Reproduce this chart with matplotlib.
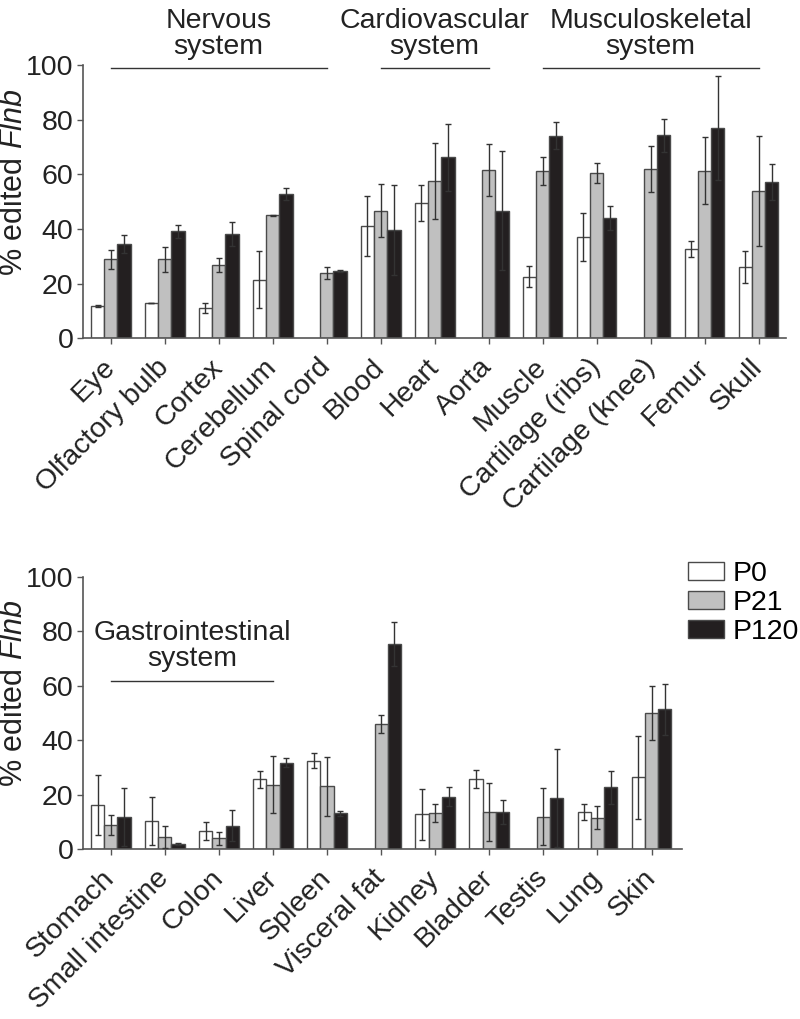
import numpy as np
import matplotlib
matplotlib.use('Agg')
import matplotlib.pyplot as plt

plt.rcParams['font.family'] = ['Liberation Sans', 'DejaVu Sans']
plt.rcParams['mathtext.fontset'] = 'custom'
plt.rcParams['mathtext.rm'] = 'Liberation Sans'
plt.rcParams['mathtext.it'] = 'Liberation Sans:italic'

# top panel
tissues_top = ['Eye', 'Olfactory bulb', 'Cortex', 'Cerebellum', 'Spinal cord',
               'Blood', 'Heart', 'Aorta', 'Muscle', 'Cartilage (ribs)',
               'Cartilage (knee)', 'Femur', 'Skull']
p0_top = [11.9, 13.1, 11.1, 21.5, np.nan, 41.1, 49.5, np.nan, 22.6, 37.2, np.nan, 32.8, 26.2]
p0_top_err = [0.3, 0, 1.7, 10.4, 0, 10.9, 6.5, 0, 3.8, 8.8, 0, 2.9, 5.8]
p21_top = [28.9, 28.9, 26.9, 45.0, 24.0, 46.8, 57.7, 61.5, 61.2, 60.4, 62.0, 61.4, 53.9]
p21_top_err = [3.4, 4.5, 2.6, 0.2, 2.2, 9.7, 13.9, 9.5, 5.1, 3.7, 8.3, 12.2, 20.0]
p120_top = [34.4, 39.2, 38.1, 52.7, 24.6, 39.6, 66.3, 46.8, 74.2, 44.1, 74.3, 77.0, 57.3]
p120_top_err = [3.3, 2.3, 4.4, 2.2, 0.5, 16.5, 12.3, 21.9, 5.0, 4.5, 5.9, 19.0, 6.5]

# bottom panel
tissues_bot = ['Stomach', 'Small intestine', 'Colon', 'Liver', 'Spleen',
               'Visceral fat', 'Kidney', 'Bladder', 'Testis', 'Lung', 'Skin']
p0_bot = [16.2, 10.3, 6.6, 25.6, 32.4, np.nan, 12.8, 25.8, np.nan, 13.7, 26.4]
p0_bot_err = [11.1, 8.8, 3.2, 3.0, 2.8, 0, 9.3, 3.2, 0, 3.0, 15.3]
p21_bot = [8.9, 4.5, 3.9, 23.7, 23.1, 46.0, 13.3, 13.7, 11.9, 11.5, 50.0]
p21_bot_err = [3.7, 4.0, 2.5, 10.5, 10.9, 3.4, 3.4, 10.7, 10.4, 4.3, 10.0]
p120_bot = [11.9, 1.8, 8.6, 31.8, 13.2, 75.3, 19.3, 13.7, 18.7, 22.7, 51.3]
p120_bot_err = [10.7, 0.3, 5.8, 1.8, 0.9, 8.1, 3.4, 4.5, 18.0, 6.0, 9.4]

ages = ['P0', 'P21', 'P120']
colors = ['white', '#c0c0c0', '#231f20']
edge = '#4a4a4a'
w = 0.245
fs = 20.5


def panel(ax, names, series, errs):
    x = np.arange(len(names))
    for k, (vals, err) in enumerate(zip(series, errs)):
        ax.bar(x + (k - 1) * w, vals, w, color=colors[k], edgecolor=edge,
               linewidth=1.0, label=ages[k], zorder=2)
        ax.errorbar(x + (k - 1) * w, vals, yerr=err, fmt='none',
                    ecolor='#333333', elinewidth=1.0, capsize=2.5,
                    capthick=1.0, zorder=3)
    ax.set_xticks(x)
    ax.set_xticklabels(names, rotation=45, ha='right', va='center',
                       rotation_mode='anchor', fontsize=fs)
    ax.set_ylim(0, 100)
    ax.set_yticks([0, 20, 40, 60, 80, 100])
    ax.tick_params(axis='y', labelsize=fs, length=4, width=1, colors='#555555',
                   labelcolor='#222222', pad=3)
    ax.tick_params(axis='x', length=4, width=1, colors='#555555',
                   labelcolor='#222222', pad=14)
    for s in ['top', 'right']:
        ax.spines[s].set_visible(False)
    for s in ['left', 'bottom']:
        ax.spines[s].set_color('#555555')
        ax.spines[s].set_linewidth(1.2)
    ax.set_ylabel('% edited $\\mathit{Flnb}$', fontsize=22, color='#222222')


def group(ax, x0, x1, y, label, ty):
    ax.plot([x0, x1], [y, y], color='#333333', lw=1.0, clip_on=False)
    ax.text((x0 + x1) / 2, ty, label, ha='center', va='center', fontsize=fs,
            color='#222222', linespacing=1.0, clip_on=False)


fig = plt.figure(figsize=(8, 10.19), dpi=100)

ax1 = fig.add_axes([0.104, 0.668, 0.878, 0.268])
panel(ax1, tissues_top, [p0_top, p21_top, p120_top],
      [p0_top_err, p21_top_err, p120_top_err])
ax1.set_xlim(-0.51, 12.5)
ax1.yaxis.set_label_coords(-0.077, 0.571)
group(ax1, 0, 4, 99, 'Nervous\nsystem', 111.5)
group(ax1, 5, 7, 99, 'Cardiovascular\nsystem', 111.5)
group(ax1, 8, 12, 99, 'Musculoskeletal\nsystem', 111.5)

ax2 = fig.add_axes([0.104, 0.1668, 0.749, 0.267])
panel(ax2, tissues_bot, [p0_bot, p21_bot, p120_bot],
      [p0_bot_err, p21_bot_err, p120_bot_err])
ax2.set_xlim(-0.51, 10.57)
ax2.yaxis.set_label_coords(-0.090, 0.571)
group(ax2, 0, 3, 61.8, 'Gastrointestinal\nsystem', 74.5)

leg = ax2.legend(loc='upper left', bbox_to_anchor=(1.01, 1.057), frameon=False,
                 fontsize=fs, handlelength=1.26, handleheight=0.6,
                 handletextpad=0.28, labelspacing=0.1, borderaxespad=0,
                 borderpad=0)

fig.savefig('out.png', dpi=100)
